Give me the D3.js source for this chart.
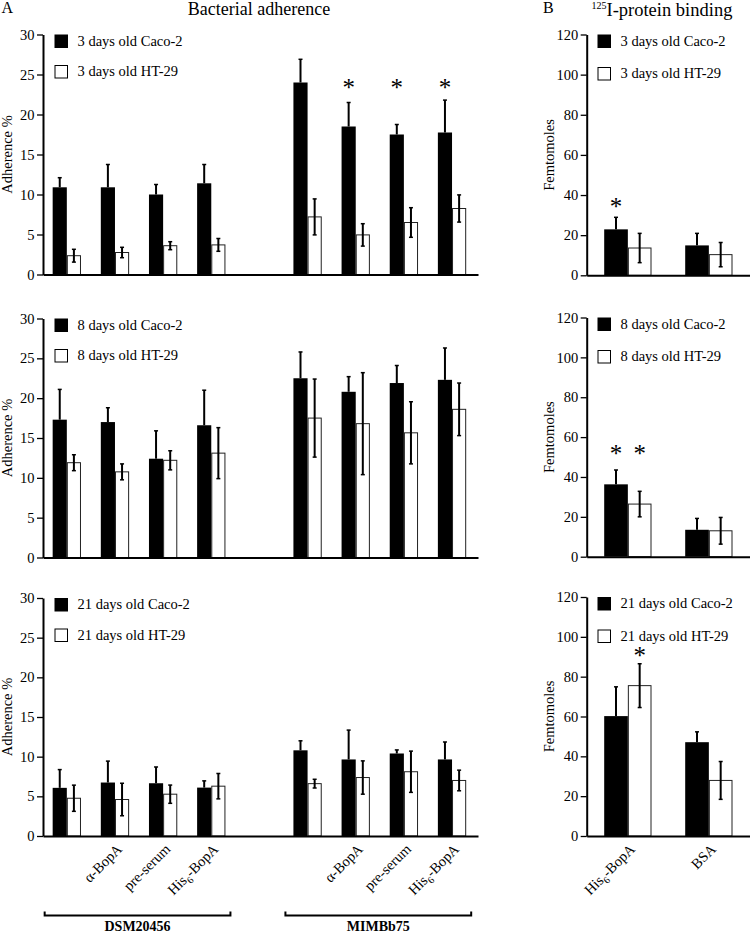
<!DOCTYPE html>
<html><head><meta charset="utf-8">
<script src="https://cdn.jsdelivr.net/npm/d3@7"></script>
<style>html,body{margin:0;padding:0;background:#fff;}</style>
</head><body>
<svg id="chart" width="750" height="933"></svg>
<script>
// ---------- data ----------
const slotKeys   = ["D-ctrl","D-aBopA","D-pre","D-His","gap","M-ctrl","M-aBopA","M-pre","M-His"];
const slotLabels = ["", "α-BopA", "pre-serum", "His6-BopA", "", "", "α-BopA", "pre-serum", "His6-BopA"];
const strains = ["DSM20456", "MIMBb75"];
const strainSlots = [["D-ctrl","D-His"], ["M-ctrl","M-His"]];
const adhTicks = [0, 5, 10, 15, 20, 25, 30];

const caco3    = [10.9, 10.9, 10.0, 11.4, null, 24.0, 18.5, 17.5, 17.75];
const caco3Err = [1.2, 2.85, 1.25, 2.35, null, 2.9, 3.0, 1.25, 4.05];
const ht3      = [2.35, 2.75, 3.6, 3.7, null, 7.2, 4.95, 6.5, 8.25];
const ht3Err   = [0.8, 0.65, 0.5, 0.8, null, 2.25, 1.4, 1.85, 1.7];

const caco8    = [17.3, 17.0, 12.4, 16.6, null, 22.5, 20.8, 21.9, 22.3];
const caco8Err = [3.8, 1.8, 3.5, 4.4, null, 3.3, 1.9, 2.2, 4.0];
const ht8      = [11.9, 10.75, 12.2, 13.1, null, 17.5, 16.8, 15.65, 18.6];
const ht8Err   = [1.0, 1.0, 1.2, 3.2, null, 4.9, 6.4, 3.9, 3.3];

const caco21    = [6.07, 6.74, 6.65, 6.1, null, 10.8, 9.65, 10.4, 9.65];
const caco21Err = [2.3, 2.7, 2.05, 0.85, null, 1.2, 3.7, 0.45, 2.2];
const ht21      = [4.76, 4.6, 5.27, 6.28, null, 6.6, 7.37, 8.1, 7.0];
const ht21Err   = [1.65, 2.05, 1.15, 1.6, null, 0.55, 2.1, 2.6, 1.3];

const adhStars3 = [{slot:"M-aBopA", s:"caco", v:24}, {slot:"M-pre", s:"caco", v:24}, {slot:"M-His", s:"caco", v:24}];

const bindCats   = ["His-BopA", "BSA"];
const bindLabels = ["His6-BopA", "BSA"];
const bindTicks  = [0, 20, 40, 60, 80, 100, 120];
const bCaco3 = [22.9, 14.9],  bCaco3Err = [6.0, 6.0];
const bHt3   = [13.6, 10.3],  bHt3Err   = [7.3, 6.05];
const bCaco8 = [36.3, 13.5],  bCaco8Err = [7.2, 5.7];
const bHt8   = [26.4, 13.0],  bHt8Err   = [6.4, 6.7];
const bCaco21 = [60.2, 47.1], bCaco21Err = [14.7, 5.2];
const bHt21   = [75.5, 27.9], bHt21Err   = [11.0, 9.5];
const bindStars3  = [{slot:"His-BopA", s:"caco", v:36.5}];
const bindStars8  = [{slot:"His-BopA", s:"caco", v:54}, {slot:"His-BopA", s:"ht", v:54}];
const bindStars21 = [{slot:"His-BopA", s:"ht", v:93}];

const days = ["3", "8", "21"];

// ---------- drawing ----------
const FONT = "'Liberation Serif','Times New Roman',Times,serif";
const svg = d3.select("#chart");

const xA = d3.scaleBand().domain(slotKeys).range([43, 478]).paddingInner(0.412).paddingOuter(0.223).align(0.45);
const xB = d3.scaleBand().domain(bindCats).range([586.7, 750]).paddingInner(0.416).paddingOuter(0.216).align(0.5);

function labelText(sel, label) {
  if (label.startsWith("His6")) {
    sel.append("tspan").text("His");
    sel.append("tspan").text("6").attr("font-size", 10).attr("dy", 4);
    sel.append("tspan").text(label.slice(4)).attr("dy", -4);
  } else sel.text(label);
}

function panel(opt) {
  const { x, keys, yRange, domainMax, ticks, caco, cacoErr, ht, htErr, stars, legend, yTitle, yTitleX, labels, legendGap, legendX } = opt;
  const y = d3.scaleLinear().domain([0, domainMax]).range(yRange);
  const sub = d3.scaleBand().domain(["caco", "ht"]).range([0, x.bandwidth()]);
  const g = svg.append("g");
  const x0 = x.range()[0];

  const rows = keys.map((k, i) => ({ k, i, caco: caco[i], cacoErr: cacoErr[i], ht: ht[i], htErr: htErr[i] }))
    .filter(d => d.caco != null);

  // bars
  g.selectAll(".bc").data(rows).join("rect")
    .attr("x", d => x(d.k) + sub("caco")).attr("width", sub.bandwidth())
    .attr("y", d => y(d.caco)).attr("height", d => y(0) - y(d.caco))
    .attr("fill", "#000");
  g.selectAll(".bh").data(rows).join("rect")
    .attr("x", d => x(d.k) + sub("ht") + 0.5).attr("width", sub.bandwidth() - 1)
    .attr("y", d => y(d.ht)).attr("height", d => y(0) - y(d.ht))
    .attr("fill", "#fff").attr("stroke", "#222").attr("stroke-width", 1);

  // error bars
  const cap = 2;
  rows.forEach(d => {
    const cx = x(d.k) + sub("caco") + sub.bandwidth() / 2;
    g.append("line").attr("x1", cx).attr("x2", cx).attr("y1", y(d.caco)).attr("y2", y(d.caco + d.cacoErr))
      .attr("stroke", "#000").attr("stroke-width", 2);
    g.append("line").attr("x1", cx - cap).attr("x2", cx + cap).attr("y1", y(d.caco + d.cacoErr)).attr("y2", y(d.caco + d.cacoErr))
      .attr("stroke", "#000").attr("stroke-width", 1.5);
    const hx = x(d.k) + sub("ht") + sub.bandwidth() / 2;
    g.append("line").attr("x1", hx).attr("x2", hx).attr("y1", y(d.ht - d.htErr)).attr("y2", y(d.ht + d.htErr))
      .attr("stroke", "#000").attr("stroke-width", 2);
    [d.ht - d.htErr, d.ht + d.htErr].forEach(v => {
      g.append("line").attr("x1", hx - cap).attr("x2", hx + cap).attr("y1", y(v)).attr("y2", y(v))
        .attr("stroke", "#000").attr("stroke-width", 1.5);
    });
  });

  // stars
  (stars || []).forEach(s => {
    g.append("text").attr("x", x(s.slot) + sub(s.s) + sub.bandwidth() / 2).attr("y", y(s.v) + 13)
      .attr("text-anchor", "middle").attr("font-family", FONT).attr("font-size", 25).text("*");
  });

  // axes
  const ya = g.append("g").attr("transform", `translate(${x0},0)`)
    .call(d3.axisLeft(y).tickValues(ticks).tickSize(6).tickSizeOuter(0).tickPadding(2.5));
  ya.select(".domain").attr("stroke-width", 2);
  ya.selectAll(".tick line").attr("stroke-width", 1.3);
  ya.selectAll("text").attr("font-family", FONT).attr("font-size", 14.5).attr("fill", "#000");
  ya.attr("font-family", FONT);
  const xa = g.append("g").attr("transform", `translate(0,${y(0)})`)
    .call(d3.axisBottom(x).tickValues([]).tickSizeOuter(0));
  xa.select(".domain").attr("stroke-width", 2);

  // y title
  g.append("text").attr("transform", `translate(${yTitleX},${(yRange[0] + yRange[1]) / 2}) rotate(-90)`)
    .attr("text-anchor", "middle").attr("font-family", FONT).attr("font-size", 14.5).text(yTitle);

  // legend
  const top = yRange[1];
  legend.forEach((t, i) => {
    const ly = top + 0.5 + i * legendGap;
    g.append("rect").attr("x", legendX + 0.5).attr("y", ly).attr("width", 12.5).attr("height", 12.5)
      .attr("fill", i === 0 ? "#000" : "#fff").attr("stroke", "#000").attr("stroke-width", 1);
    g.append("text").attr("x", legendX + 23).attr("y", ly + 10.5)
      .attr("font-family", FONT).attr("font-size", 14.5).text(t);
  });

  // category labels
  if (labels) {
    keys.forEach((k, i) => {
      if (!labels[i]) return;
      const t = g.append("text")
        .attr("transform", `translate(${x(k) + x.bandwidth() / 2 + 8},${y(0) + 14}) rotate(-45)`)
        .attr("text-anchor", "end").attr("font-family", FONT).attr("font-size", 14.5);
      labelText(t, labels[i]);
    });
  }
  return y;
}

const aRanges = [[274.5, 34.5], [557.5, 318.5], [836, 598]];
const bRanges = [[275.3, 34.5], [556.7, 317.5], [836, 597]];
const aData = [[caco3, caco3Err, ht3, ht3Err, adhStars3], [caco8, caco8Err, ht8, ht8Err, []], [caco21, caco21Err, ht21, ht21Err, []]];
const bData = [[bCaco3, bCaco3Err, bHt3, bHt3Err, bindStars3], [bCaco8, bCaco8Err, bHt8, bHt8Err, bindStars8], [bCaco21, bCaco21Err, bHt21, bHt21Err, bindStars21]];

days.forEach((dd, p) => {
  const lg = [`${dd} days old Caco-2`, `${dd} days old HT-29`];
  panel({ x: xA, keys: slotKeys, yRange: aRanges[p], domainMax: 30, ticks: adhTicks,
    caco: aData[p][0], cacoErr: aData[p][1], ht: aData[p][2], htErr: aData[p][3], stars: aData[p][4],
    legend: lg, yTitle: "Adherence %", yTitleX: 12, labels: p === 2 ? slotLabels : null, legendGap: 30.5, legendX: 54.5 });
  panel({ x: xB, keys: bindCats, yRange: bRanges[p], domainMax: 120, ticks: bindTicks,
    caco: bData[p][0], cacoErr: bData[p][1], ht: bData[p][2], htErr: bData[p][3], stars: bData[p][4],
    legend: lg, yTitle: "Femtomoles", yTitleX: 553.5, labels: p === 2 ? bindLabels : null, legendGap: 32.5, legendX: 597.5 });
});

// strain brackets
strains.forEach((s, i) => {
  const a = xA(strainSlots[i][0]) - 8, b = xA(strainSlots[i][1]) + xA.bandwidth() + 5;
  const by = 915.5;
  svg.append("path").attr("d", `M${a},${by - 4}V${by}H${b}V${by - 4}`)
    .attr("fill", "none").attr("stroke", "#000").attr("stroke-width", 2);
  svg.append("text").attr("x", (a + b) / 2).attr("y", 931).attr("text-anchor", "middle")
    .attr("font-family", FONT).attr("font-size", 14).attr("font-weight", "bold").text(s);
});

// titles
svg.append("text").attr("x", 1.5).attr("y", 12.5).attr("font-family", FONT).attr("font-size", 16).text("A");
svg.append("text").attr("x", 259).attr("y", 15).attr("text-anchor", "middle").attr("font-family", FONT).attr("font-size", 18).text("Bacterial adherence");
svg.append("text").attr("x", 543).attr("y", 12.5).attr("font-family", FONT).attr("font-size", 16).text("B");
const bt = svg.append("text").attr("x", 591.5).attr("y", 15.7).attr("font-family", FONT).attr("font-size", 18.5);
bt.append("tspan").text("125").attr("font-size", 10).attr("dy", -7);
bt.append("tspan").text("I-protein binding").attr("dy", 7);
</script>
</body></html>
